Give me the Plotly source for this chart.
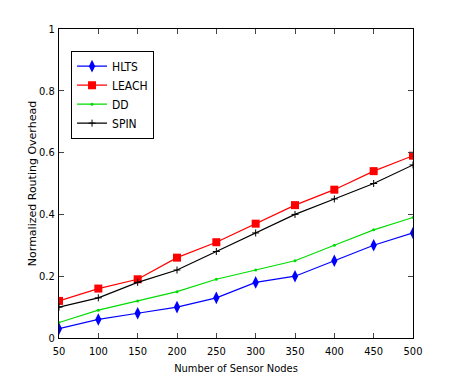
import plotly.graph_objects as go

nodes = [50, 100, 150, 200, 250, 300, 350, 400, 450, 500]
hlts = [0.03, 0.06, 0.08, 0.10, 0.13, 0.18, 0.20, 0.25, 0.30, 0.34]
leach = [0.12, 0.16, 0.19, 0.26, 0.31, 0.37, 0.43, 0.48, 0.54, 0.59]
dd = [0.05, 0.09, 0.12, 0.15, 0.19, 0.22, 0.25, 0.30, 0.35, 0.39]
spin = [0.10, 0.13, 0.18, 0.22, 0.28, 0.34, 0.40, 0.45, 0.50, 0.56]
y_ticks = [0, 0.2, 0.4, 0.6, 0.8, 1]
y_labels = ["0", "0.2", "0.4", "0.6", "0.8", "1"]

fig = go.Figure()
fig.add_trace(go.Scatter(x=nodes, y=hlts, name="HLTS", mode="lines+markers",
                         line=dict(color="#0000ff", width=1.2),
                         marker=dict(symbol="diamond-tall", size=9, color="#0000ff")))
fig.add_trace(go.Scatter(x=nodes, y=leach, name="LEACH", mode="lines+markers",
                         line=dict(color="#ff0000", width=1.2),
                         marker=dict(symbol="square", size=8, color="#ff0000")))
fig.add_trace(go.Scatter(x=nodes, y=dd, name="DD", mode="lines+markers",
                         line=dict(color="#00dd00", width=1.2),
                         marker=dict(symbol="circle", size=3, color="#00dd00")))
fig.add_trace(go.Scatter(x=nodes, y=spin, name="SPIN", mode="lines+markers",
                         line=dict(color="#000000", width=1.2),
                         marker=dict(symbol="cross-thin", size=5, color="#000000",
                                     line=dict(color="#000000", width=1))))

font = "DejaVu Sans Condensed, Liberation Sans Narrow, Arial Narrow, sans-serif"
fig.update_layout(
    width=448, height=373,
    paper_bgcolor="white", plot_bgcolor="white",
    margin=dict(l=51, r=43, t=21, b=43),
    font=dict(family=font, size=11, color="black"),
    showlegend=True,
    legend=dict(x=0.034, y=0.93, xanchor="left", yanchor="top",
                bordercolor="black", borderwidth=1, bgcolor="white",
                font=dict(size=12, family=font), tracegroupgap=0,
                itemwidth=30),
    xaxis=dict(range=[50, 500], tickvals=nodes, ticks="inside", ticklen=5,
               showline=True, mirror="ticks", linecolor="black", linewidth=1,
               showgrid=False, zeroline=False, automargin=False, ticklabelstandoff=3,
               title=dict(text="Number of Sensor Nodes", font=dict(size=11), standoff=7)),
    yaxis=dict(range=[0, 1], tickvals=y_ticks, ticktext=y_labels, ticks="inside", ticklen=5,
               showline=True, mirror="ticks", linecolor="black", linewidth=1,
               showgrid=False, zeroline=False, automargin=False, ticklabelstandoff=1,
               title=dict(text="Normalized Routing Overhead",
                          font=dict(size=11, family="DejaVu Sans"), standoff=0)),
)
fig.write_html("out.html")
